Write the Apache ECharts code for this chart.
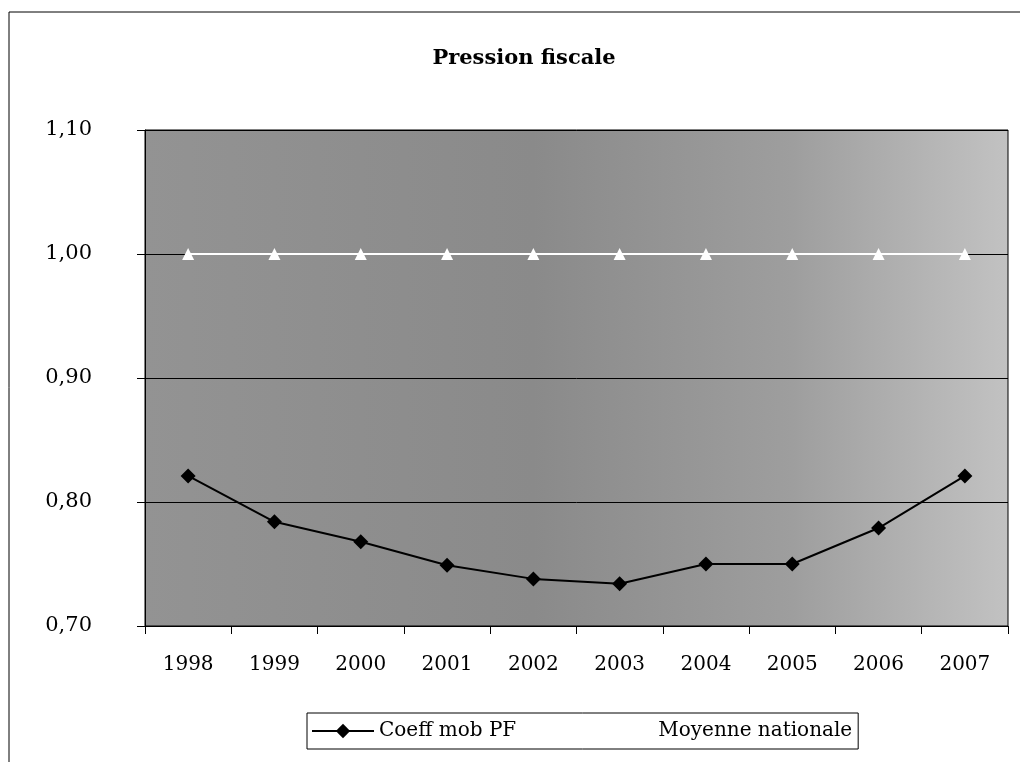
<!DOCTYPE html>
<html>
<head>
<meta charset="utf-8">
<title>Pression fiscale</title>
<script src="https://cdn.jsdelivr.net/npm/echarts@6/dist/echarts.min.js"></script>
<style>
html, body { margin: 0; padding: 0; background: #fff; }
#chart { width: 1020px; height: 762px; }
</style>
</head>
<body>
<div id="chart"></div>
<script>
// annees
const years = ['1998', '1999', '2000', '2001', '2002', '2003', '2004', '2005', '2006', '2007']
// Coeff mob PF
const coeffMobPF = [0.821, 0.784, 0.768, 0.749, 0.738, 0.734, 0.750, 0.750, 0.779, 0.821]
// Moyenne nationale
const moyenneNationale = [1.00, 1.00, 1.00, 1.00, 1.00, 1.00, 1.00, 1.00, 1.00, 1.00]

const serif = '"DejaVu Serif", "Liberation Serif", serif'

const chart = echarts.init(document.getElementById('chart'))
chart.setOption({
    animation: false,
    backgroundColor: '#fff',
    graphic: [{
        type: 'rect',
        shape: { x: 9, y: 12, width: 1030, height: 780 },
        style: { fill: 'none', stroke: '#000', lineWidth: 1 },
        silent: true
    }],
    title: {
        text: 'Pression fiscale',
        left: 519,
        textAlign: 'center',
        top: 43,
        textStyle: {
            fontFamily: serif,
            fontWeight: 'bold',
            fontSize: 21,
            color: '#000'
        }
    },
    grid: {
        show: true,
        left: 145,
        right: 12,
        top: 130,
        bottom: 136,
        borderColor: '#000',
        borderWidth: 1,
        backgroundColor: {
            type: 'linear',
            x: 0, y: 0, x2: 1, y2: 0,
            colorStops: [
                { offset: 0, color: '#939393' },
                { offset: 0.45, color: '#8a8a8a' },
                { offset: 0.75, color: '#9e9e9e' },
                { offset: 1, color: '#c2c2c2' }
            ]
        }
    },
    legend: {
        left: 307,
        top: 713,
        padding: [8, 6, 8, 4],
        itemGap: 74,
        itemWidth: 62,
        itemHeight: 18,
        borderColor: '#000',
        borderWidth: 1,
        backgroundColor: '#fff',
        textStyle: {
            fontFamily: serif,
            fontSize: 20,
            color: '#000'
        },
        data: ['Coeff mob PF', 'Moyenne nationale']
    },
    xAxis: {
        type: 'category',
        data: years,
        boundaryGap: true,
        axisLine: { lineStyle: { color: '#000', width: 1 } },
        axisTick: { show: true, length: 8, inside: false, lineStyle: { color: '#000' } },
        axisLabel: {
            margin: 29,
            fontFamily: serif,
            fontSize: 20,
            color: '#000'
        },
        splitLine: { show: false }
    },
    yAxis: {
        type: 'value',
        min: 0.70,
        max: 1.10,
        interval: 0.10,
        axisLine: { show: true, lineStyle: { color: '#000', width: 1 } },
        axisTick: { show: true, length: 8, lineStyle: { color: '#000' } },
        axisLabel: {
            margin: 53,
            fontFamily: serif,
            fontSize: 21,
            color: '#000',
            formatter: function (v) {
                return v.toFixed(2).replace('.', ',')
            }
        },
        splitLine: { show: true, lineStyle: { color: '#000', width: 1 } }
    },
    series: [{
        name: 'Coeff mob PF',
        type: 'line',
        data: coeffMobPF,
        symbol: 'diamond',
        symbolSize: 15,
        itemStyle: { color: '#000' },
        lineStyle: { color: '#000', width: 2 },
        z: 3
    }, {
        name: 'Moyenne nationale',
        type: 'line',
        data: moyenneNationale,
        symbol: 'triangle',
        symbolSize: 12,
        itemStyle: { color: '#fff' },
        lineStyle: { color: '#fff', width: 2 },
        z: 2
    }]
})
</script>
</body>
</html>
